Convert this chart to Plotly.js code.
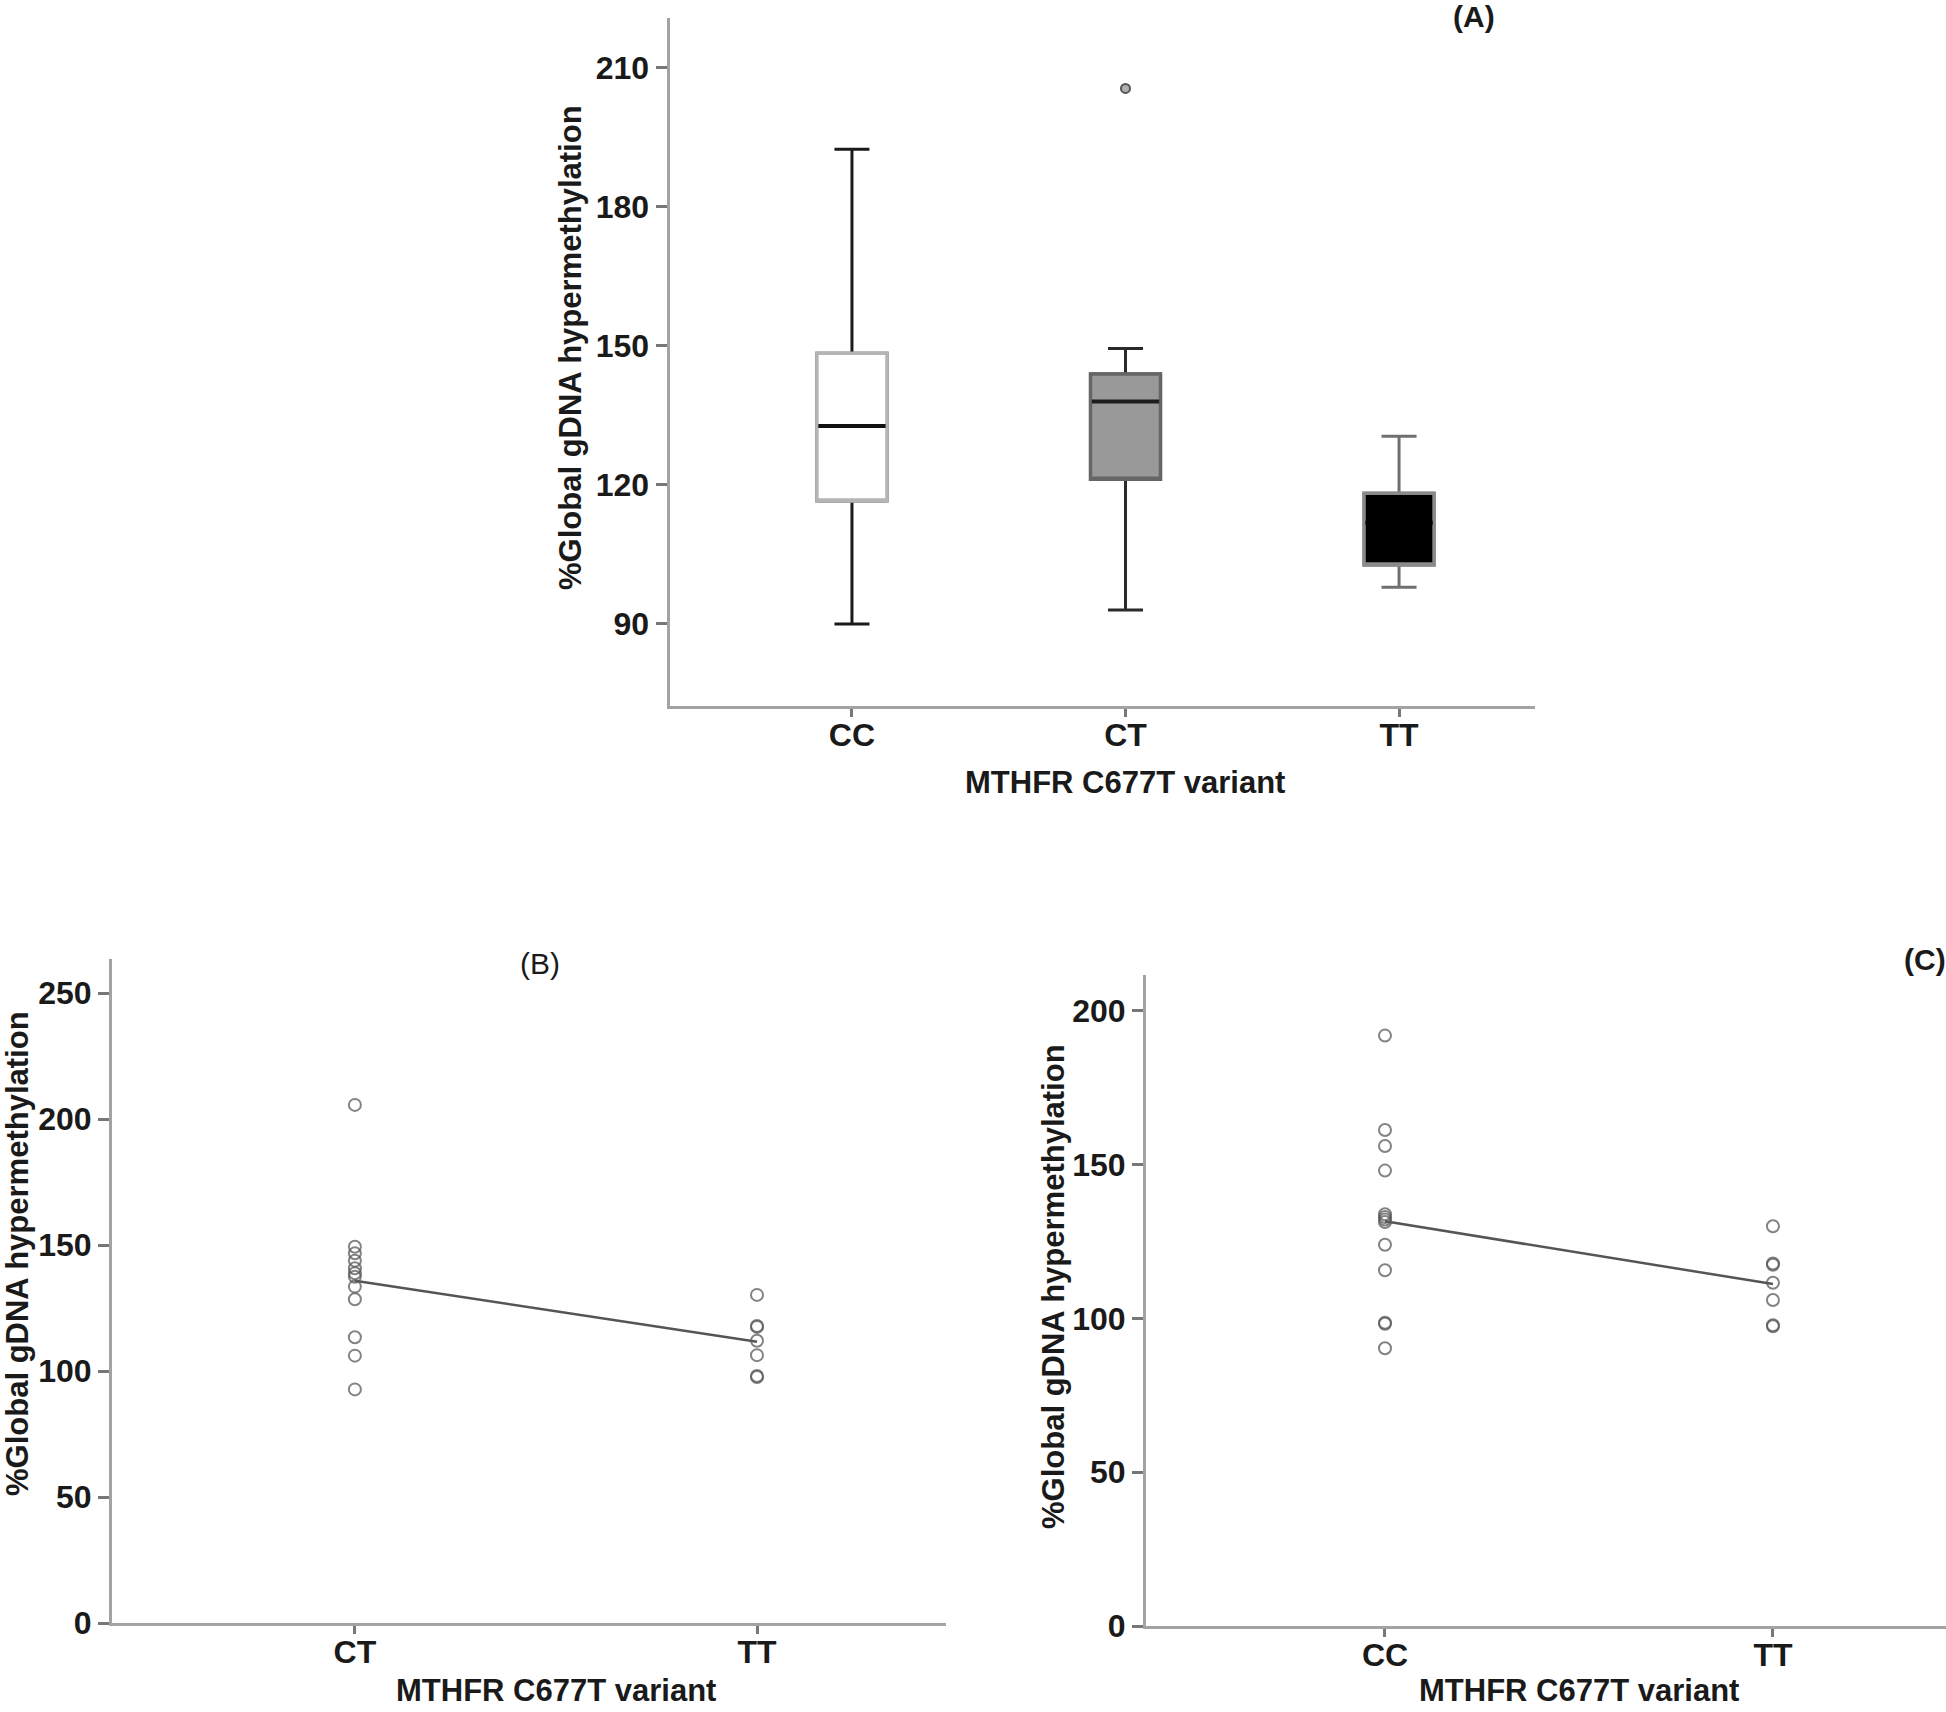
<!DOCTYPE html>
<html>
<head>
<meta charset="utf-8">
<script src="https://cdn.plot.ly/plotly-3.0.1.min.js"></script>
<style>html,body{margin:0;padding:0;background:#fff;}#chart{width:1946px;height:1712px;}</style>
</head>
<body>
<div id="chart"></div>
<script>
// ---------- Data ----------
const catsA = ['CC', 'CT', 'TT'];
const q1A = [116.5, 121.2, 102.7];
const medianA = [132.7, 138.0, 111.8];
const q3A = [148.4, 143.9, 118.2];
const lowerA = [90.0, 93.0, 97.9];
const upperA = [192.4, 149.4, 130.5];
const outlierCatA = ['CT'];
const outlierValA = [205.5];

const catsB = ['CT', 'TT'];
const ctValsB = [205.6, 149.3, 146.7, 143.8, 140.8, 138.8, 137.4, 133.5, 128.5, 113.4, 106.1, 92.7];
const ttValsB = [130.2, 117.9, 117.5, 112.0, 106.3, 98.0, 97.6];
const meanB = [135.8, 111.6];

const catsC = ['CC', 'TT'];
const ccValsC = [192.0, 161.3, 156.1, 148.1, 133.9, 133.0, 132.2, 131.4, 124.0, 115.7, 98.6, 98.3, 90.3];
const ttValsC = [130.0, 117.9, 117.5, 111.6, 106.0, 97.8, 97.5];
const meanC = [131.6, 111.2];

const ticksA = [90, 120, 150, 180, 210];
const ticksBC = [0, 50, 100, 150, 200, 250];
const ticksC = [0, 50, 100, 150, 200];

const yTitle = '%Global gDNA hypermethylation';
const xTitle = 'MTHFR C677T variant';

// ---------- Styles ----------
const FONT = 'Liberation Sans, Arial, sans-serif';
const boxFill = ['#ffffff', '#999999', '#000000'];
const boxEdge = ['#b5b5b5', '#666666', '#8a8a8a'];
const whiskerCol = ['#1a1a1a', '#2a2a2a', '#707070'];
const medianCol = ['#111111', '#1e1e1e', '#000000'];
const BOXW = 0.256;

const traces = [];
catsA.forEach((c, i) => {
  // whiskers
  traces.push({
    type: 'box', x: [c], q1: [q1A[i]], median: [medianA[i]], q3: [q3A[i]],
    lowerfence: [lowerA[i]], upperfence: [upperA[i]],
    width: BOXW, whiskerwidth: 0.5, boxpoints: false,
    fillcolor: 'rgba(0,0,0,0)', line: {color: whiskerCol[i], width: 3},
    xaxis: 'x', yaxis: 'y', showlegend: false, hoverinfo: 'skip'
  });
  // body
  traces.push({
    type: 'box', x: [c], q1: [q1A[i]], median: [q1A[i]], q3: [q3A[i]],
    lowerfence: [q1A[i]], upperfence: [q3A[i]],
    width: BOXW, whiskerwidth: 0, boxpoints: false,
    fillcolor: boxFill[i], line: {color: boxEdge[i], width: 3.5},
    xaxis: 'x', yaxis: 'y', showlegend: false, hoverinfo: 'skip'
  });
  // median
  traces.push({
    type: 'box', x: [c], q1: [medianA[i]], median: [medianA[i]], q3: [medianA[i]],
    lowerfence: [medianA[i]], upperfence: [medianA[i]],
    width: BOXW - 0.01, whiskerwidth: 0, boxpoints: false,
    fillcolor: 'rgba(0,0,0,0)', line: {color: medianCol[i], width: 4},
    xaxis: 'x', yaxis: 'y', showlegend: false, hoverinfo: 'skip'
  });
});
traces.push({
  type: 'scatter', mode: 'markers', x: outlierCatA, y: outlierValA,
  marker: {symbol: 'circle', size: 9, color: '#b0b0b0', line: {color: '#555', width: 2}},
  xaxis: 'x', yaxis: 'y', showlegend: false, hoverinfo: 'skip'
});

const ptMarker = {symbol: 'circle-open', size: 12, color: 'rgba(90,90,90,0.75)', line: {width: 2}};
// Panel B
traces.push({type: 'scatter', mode: 'lines', x: catsB, y: meanB,
  line: {color: '#555555', width: 2.5}, xaxis: 'x2', yaxis: 'y2', showlegend: false, hoverinfo: 'skip'});
traces.push({type: 'scatter', mode: 'markers', x: ctValsB.map(() => catsB[0]), y: ctValsB,
  marker: ptMarker, xaxis: 'x2', yaxis: 'y2', showlegend: false, hoverinfo: 'skip'});
traces.push({type: 'scatter', mode: 'markers', x: ttValsB.map(() => catsB[1]), y: ttValsB,
  marker: ptMarker, xaxis: 'x2', yaxis: 'y2', showlegend: false, hoverinfo: 'skip'});
// Panel C
traces.push({type: 'scatter', mode: 'lines', x: catsC, y: meanC,
  line: {color: '#555555', width: 2.5}, xaxis: 'x3', yaxis: 'y3', showlegend: false, hoverinfo: 'skip'});
traces.push({type: 'scatter', mode: 'markers', x: ccValsC.map(() => catsC[0]), y: ccValsC,
  marker: ptMarker, xaxis: 'x3', yaxis: 'y3', showlegend: false, hoverinfo: 'skip'});
traces.push({type: 'scatter', mode: 'markers', x: ttValsC.map(() => catsC[1]), y: ttValsC,
  marker: ptMarker, xaxis: 'x3', yaxis: 'y3', showlegend: false, hoverinfo: 'skip'});

// ---------- Layout ----------
const W = 1946, H = 1712;
const px = v => v / W;
const py = v => 1 - v / H;
const tickFont = {family: FONT, size: 32, color: '#1a1a1a', weight: 'bold'};
const AXC = '#a3a3a3';

function catAxis(domain, range, cats, anchor) {
  return {domain: domain, range: range, type: 'category', categoryorder: 'array', categoryarray: cats,
    anchor: anchor, showline: true, linecolor: AXC, linewidth: 3, showgrid: false, zeroline: false,
    ticks: 'outside', ticklen: 8, tickwidth: 3, tickcolor: '#777', tickfont: tickFont,
    ticklabelstandoff: -9, fixedrange: true};
}
function valAxis(domain, range, tv, anchor) {
  return {domain: domain, range: range, anchor: anchor, showline: true, linecolor: AXC, linewidth: 3,
    showgrid: false, zeroline: false, tickmode: 'array', tickvals: tv, ticktext: tv.map(String),
    ticks: 'outside', ticklen: 11, tickwidth: 3, tickcolor: '#777', tickfont: tickFont, fixedrange: true};
}
function innerX(over, anchor, range, n) {
  return {overlaying: over, anchor: anchor, range: range, showline: false, showgrid: false, zeroline: false,
    tickmode: 'array', tickvals: Array.from({length: n}, (_, k) => k), ticks: 'inside', ticklen: 10,
    tickwidth: 3, tickcolor: '#777', showticklabels: false, fixedrange: true};
}
function innerY(over, anchor, range, tv) {
  return {overlaying: over, anchor: anchor, range: range, showline: false, showgrid: false, zeroline: false,
    tickmode: 'array', tickvals: tv, ticks: 'inside', ticklen: 10, tickwidth: 3, tickcolor: '#777',
    showticklabels: false, fixedrange: true};
}

const rxA = [-0.667, 2.497], ryA = [72.3, 220.7];
const rxB = [-0.604, 1.47], ryB = [0, 263.5];
const rxC = [-0.616, 1.446], ryC = [0, 211.7];

const titleFont = {family: FONT, size: 31, color: '#1a1a1a', weight: 'bold'};
function ann(text, x, y, angle, font) {
  return {text: text, xref: 'paper', yref: 'paper', x: px(x), y: py(y), xanchor: 'center', yanchor: 'middle',
    showarrow: false, textangle: angle || 0, font: font || titleFont};
}

const layout = {
  width: W, height: H, margin: {l: 0, r: 0, t: 0, b: 0},
  paper_bgcolor: '#ffffff', plot_bgcolor: 'rgba(0,0,0,0)', showlegend: false, boxmode: 'overlay',
  xaxis: catAxis([px(669.5), px(1535)], rxA, catsA, 'y'),
  yaxis: valAxis([py(706), py(18)], ryA, ticksA, 'x'),
  xaxis2: catAxis([px(112), px(946)], rxB, catsB, 'y2'),
  yaxis2: valAxis([py(1623), py(959)], ryB, ticksBC, 'x2'),
  xaxis3: catAxis([px(1146), 1], rxC, catsC, 'y3'),
  yaxis3: valAxis([py(1626), py(975)], ryC, ticksC, 'x3'),
  xaxis4: innerX('x', 'y', rxA, catsA.length),
  yaxis4: innerY('y', 'x', ryA, ticksA),
  xaxis5: innerX('x2', 'y2', rxB, catsB.length),
  yaxis5: innerY('y2', 'x2', ryB, ticksBC),
  xaxis6: innerX('x3', 'y3', rxC, catsC.length),
  yaxis6: innerY('y3', 'x3', ryC, ticksC),
  annotations: [
    ann('(A)', 1474, 17, 0, {family: FONT, size: 30, color: '#1a1a1a', weight: 'bold'}),
    ann('(B)', 540, 963, 0, {family: FONT, size: 30, color: '#1a1a1a'}),
    ann('(C)', 1925, 960, 0, {family: FONT, size: 30, color: '#1a1a1a', weight: 'bold'}),
    ann(yTitle, 570, 348, -90),
    ann(yTitle, 17, 1254, -90),
    ann(yTitle, 1053, 1287, -90),
    ann(xTitle, 1125, 782, 0),
    ann(xTitle, 556, 1690, 0),
    ann(xTitle, 1579, 1690, 0)
  ]
};

Plotly.newPlot('chart', traces, layout, {staticPlot: true, displayModeBar: false});
</script>
</body>
</html>
